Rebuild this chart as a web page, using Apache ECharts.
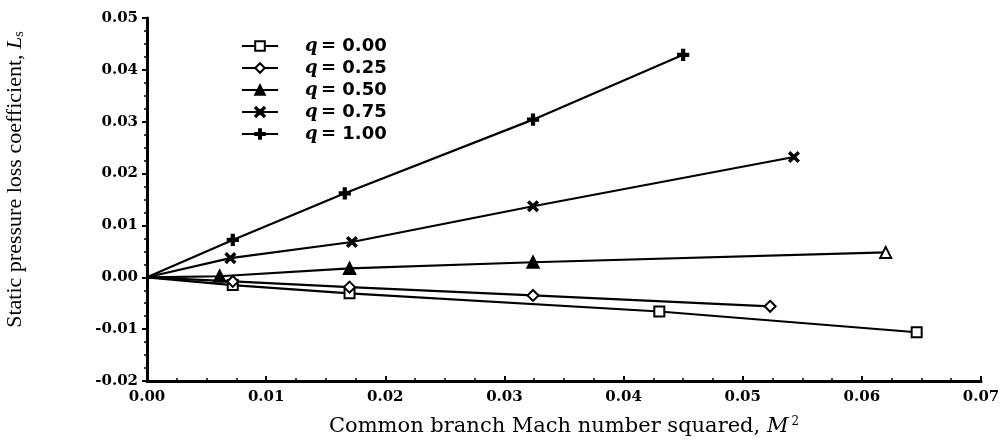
<!DOCTYPE html>
<html>
<head>
<meta charset="utf-8">
<script src="https://cdn.jsdelivr.net/npm/echarts@6/dist/echarts.min.js"></script>
<style>
html,body{margin:0;padding:0;background:#fff;}
#c{width:1008px;height:443px;}
</style>
</head>
<body>
<div id="c"></div>
<script>
// ---- data ----
const seriesNames = ['0.00', '0.25', '0.50', '0.75', '1.00'];
const xQ000 = [0, 0.0072, 0.0170, 0.0430, 0.0646];
const yQ000 = [0, -0.0015, -0.0031, -0.0066, -0.0106];
const xQ025 = [0, 0.0072, 0.0170, 0.0324, 0.0523];
const yQ025 = [0, -0.0008, -0.0019, -0.0035, -0.0056];
const xQ050 = [0, 0.0061, 0.0170, 0.0324, 0.0620];
const yQ050 = [0, 0.0002, 0.0017, 0.0029, 0.0048];
const xQ075 = [0, 0.0070, 0.0172, 0.0324, 0.0543];
const yQ075 = [0, 0.0037, 0.0068, 0.0137, 0.0232];
const xQ100 = [0, 0.0072, 0.0166, 0.0324, 0.0450];
const yQ100 = [0, 0.0072, 0.0162, 0.0304, 0.0429];
const xTicks = ['0.00','0.01','0.02','0.03','0.04','0.05','0.06','0.07'];
const yTicks = ['-0.02','-0.01','0.00','0.01','0.02','0.03','0.04','0.05'];

const PLUS = 'path://M4,0H6V4H10V6H6V10H4V6H0V4H4Z';
const CROSS = 'path://M1,0L5,4L9,0L10,1L6,5L10,9L9,10L5,6L1,10L0,9L4,5L0,1Z';

const xs = [xQ000, xQ025, xQ050, xQ075, xQ100];
const ys = [yQ000, yQ025, yQ050, yQ075, yQ100];
const symbols = ['emptyRect', 'emptyDiamond', 'triangle', CROSS, PLUS];
const sizes = [10, 11, 11, 9, 10];

function pts(i) {
  return xs[i].map((x, k) => {
    const item = { value: [x, ys[i][k]] };
    if (k === 0) item.symbol = 'none';
    if (i === 2 && k === xs[i].length - 1) item.symbol = 'emptyTriangle';
    return item;
  });
}

const series = seriesNames.map((n, i) => ({
  name: 'q = ' + n,
  type: 'line',
  data: pts(i),
  symbol: symbols[i],
  symbolSize: sizes[i],
  showAllSymbol: true,
  lineStyle: { color: '#000', width: 2.2 },
  itemStyle: { color: '#000', borderColor: '#000', borderWidth: 2.2 },
  emphasis: { disabled: true },
  z: 3
}));

const chart = echarts.init(document.getElementById('c'), null, { renderer: 'canvas' });
chart.setOption({
  backgroundColor: '#fff',
  animation: false,
  grid: { left: 147, right: 27, top: 18, bottom: 62, containLabel: false, outerBoundsMode: 'none' },
  legend: {
    orient: 'vertical',
    left: 236,
    top: 32,
    itemWidth: 36,
    itemHeight: 12,
    itemGap: 4,
    data: series.map(s => s.name),
    formatter: function (name) {
      return '{sp|}{q|q} {v|' + name.slice(2) + '}';
    },
    textStyle: {
      lineHeight: 18,
      rich: {
        sp: { width: 22, lineHeight: 18 },
        q: { fontFamily: 'DejaVu Serif', fontStyle: 'italic', fontWeight: 'bold', fontSize: 18, color: '#000', lineHeight: 18 },
        v: { fontFamily: 'DejaVu Sans', fontWeight: 'bold', fontSize: 18, color: '#000', lineHeight: 18 }
      }
    }
  },
  xAxis: {
    type: 'value',
    min: 0, max: 0.07, interval: 0.01,
    name: '{a|Common branch Mach number squared, }{m|M}{s|2}',
    nameLocation: 'middle',
    nameGap: 35,
    nameTextStyle: {
      rich: {
        a: { fontFamily: 'DejaVu Serif', fontSize: 21, color: '#000' },
        m: { fontFamily: 'DejaVu Serif', fontStyle: 'italic', fontSize: 21, color: '#000' },
        s: { fontFamily: 'DejaVu Serif', fontSize: 12, color: '#000', verticalAlign: 'top', padding: [0, 0, 10, 3] }
      }
    },
    axisLine: { onZero: false, lineStyle: { color: '#000', width: 3 } },
    axisTick: { show: true, inside: true, length: 5, lineStyle: { color: '#000', width: 2 } },
    minorTick: { show: true, splitNumber: 4, length: 3, lineStyle: { color: '#000', width: 1.5 } },
    splitLine: { show: false },
    axisLabel: {
      margin: 9,
      fontFamily: 'DejaVu Serif', fontWeight: 'bold', fontSize: 15, color: '#000',
      formatter: (v) => xTicks[Math.round(v * 100)]
    }
  },
  yAxis: {
    type: 'value',
    min: -0.02, max: 0.05, interval: 0.01,
    name: '{a|Static pressure loss coefficient, }{l|L}{s|s}',
    nameLocation: 'middle',
    nameGap: 121,
    nameRotate: 90,
    nameTextStyle: {
      padding: [0, 0, 0, 40],
      rich: {
        a: { fontFamily: 'Liberation Serif', fontSize: 22, color: '#000' },
        l: { fontFamily: 'Liberation Serif', fontStyle: 'italic', fontSize: 22, color: '#000' },
        s: { fontFamily: 'Liberation Serif', fontSize: 14, color: '#000', verticalAlign: 'bottom', padding: [8, 0, 0, 0] }
      }
    },
    axisLine: { onZero: false, lineStyle: { color: '#000', width: 3 } },
    axisTick: { show: true, length: 5, lineStyle: { color: '#000', width: 2 } },
    minorTick: { show: true, splitNumber: 4, length: 3, lineStyle: { color: '#000', width: 1.5 } },
    splitLine: { show: false },
    axisLabel: {
      margin: 9,
      fontFamily: 'DejaVu Serif', fontWeight: 'bold', fontSize: 15, color: '#000',
      formatter: (v) => yTicks[Math.round(v * 100) + 2]
    }
  },
  series: series
});
</script>
</body>
</html>
